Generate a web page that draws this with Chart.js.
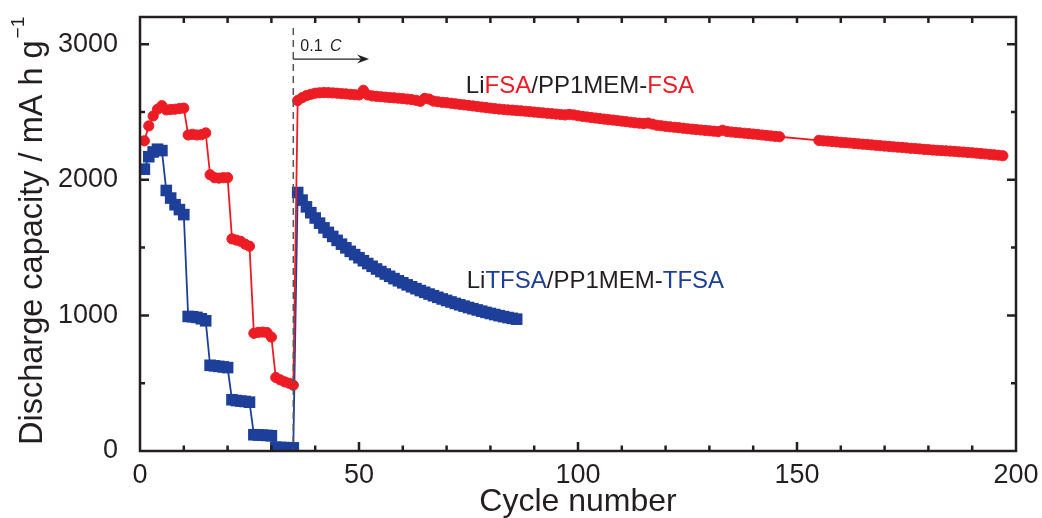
<!DOCTYPE html>
<html>
<head>
<meta charset="utf-8">
<script src="https://cdn.jsdelivr.net/npm/chart.js@4.4.1/dist/chart.umd.min.js"></script>
<style>
html,body{margin:0;padding:0;background:#ffffff;}
#wrap{width:1042px;height:518px;position:relative;}
</style>
</head>
<body>
<div id="wrap"><canvas id="c" width="1042" height="518"></canvas></div>
<script>
function range(a, b) { const r = []; for (let i = a; i <= b; i++) r.push(i); return r; }

// ---- data ----
// LiFSA/PP1MEM-FSA : cycles 1-146 and 155-197
const fsaCycles = range(1, 146).concat(range(155, 197));
const fsaCapacity = [
  2287, 2397, 2470, 2520, 2546,
  2515, 2518, 2520, 2525, 2528,
  2330, 2335, 2330, 2332, 2345,
  2037, 2015, 2012, 2015, 2015,
  1564, 1555, 1546, 1525, 1510,
  868, 875, 877, 873, 840,
  542, 525, 510, 500, 485,
  2584, 2605, 2620, 2630, 2638, 2641, 2643, 2642, 2640, 2638,
  2635, 2633, 2630, 2627, 2625, 2660, 2625, 2618, 2615, 2612,
  2609, 2606, 2604, 2601, 2598, 2595, 2591, 2586, 2578, 2600,
  2595, 2580, 2575, 2571, 2568, 2564, 2560, 2556, 2552, 2548,
  2544, 2540, 2536, 2532, 2528, 2524, 2521, 2518, 2515, 2513,
  2510, 2508, 2505, 2502, 2499, 2496, 2493, 2490, 2487, 2484,
  2481, 2478, 2482, 2478, 2472, 2467, 2463, 2459, 2455, 2451,
  2447, 2443, 2440, 2436, 2432, 2428, 2424, 2420, 2417, 2414,
  2418, 2410, 2402, 2398, 2394, 2390, 2387, 2384, 2380, 2376,
  2373, 2370, 2367, 2364, 2361, 2358, 2355, 2365, 2356, 2352,
  2349, 2346, 2343, 2340, 2337, 2334, 2330, 2327, 2323, 2320, 2317,
  2290, 2287, 2285, 2282, 2279, 2276, 2273, 2271, 2268, 2265,
  2262, 2260, 2257, 2254, 2251, 2248, 2246, 2243, 2240, 2238,
  2235, 2232, 2230, 2227, 2224, 2222, 2219, 2217, 2215, 2213,
  2211, 2209, 2206, 2204, 2201, 2199, 2196, 2193, 2190, 2187,
  2184, 2181, 2177
];

// LiTFSA/PP1MEM-TFSA : cycles 1-86
const tfsaCycles = range(1, 86);
const tfsaCapacity = [
  2078, 2170, 2205, 2225, 2215,
  1921, 1865, 1816, 1780, 1743,
  992, 990, 985, 975, 960,
  632, 628, 624, 620, 615,
  378, 372, 368, 365, 360,
  120, 118, 117, 115, 112,
  28, 26, 25, 24, 23,
  1906, 1850, 1800, 1757, 1718, 1680, 1645, 1612, 1582, 1553,
  1525, 1498, 1472, 1448, 1425, 1403, 1382, 1362, 1342, 1323,
  1305, 1288, 1271, 1255, 1240, 1225, 1211, 1197, 1183, 1170,
  1157, 1145, 1133, 1121, 1110, 1099, 1088, 1078, 1068, 1058,
  1049, 1040, 1031, 1022, 1014, 1006, 998, 991, 984, 978,
  972
];

const xTickLabels = [0, 50, 100, 150, 200];
const yTickLabels = [0, 1000, 2000, 3000];
const rateChangeCycle = 35;

const RED = '#ED1C24';
const BLUE = '#1E3F99';
const INK = '#231F20';
const FONT = "'Liberation Sans', Arial, Helvetica, sans-serif";

function pts(xs, ys) { return xs.map((x, i) => ({ x: x, y: ys[i] })); }

const decor = {
  id: 'decor',
  afterDatasetsDraw(chart) {
    const ctx = chart.ctx;
    const xs = chart.scales.x, ys = chart.scales.y;
    const a = chart.chartArea;
    ctx.save();

    // dashed rate-change line
    const xd = xs.getPixelForValue(rateChangeCycle);
    ctx.strokeStyle = '#555555';
    ctx.lineWidth = 1.5;
    ctx.setLineDash([7, 5]);
    ctx.beginPath();
    ctx.moveTo(xd, a.top + 11);
    ctx.lineTo(xd, a.bottom);
    ctx.stroke();
    ctx.setLineDash([]);

    // arrow
    const ya = ys.getPixelForValue(2890);
    const xe = xs.getPixelForValue(52.3);
    ctx.strokeStyle = INK;
    ctx.fillStyle = INK;
    ctx.lineWidth = 1.2;
    ctx.beginPath();
    ctx.moveTo(xd, ya);
    ctx.lineTo(xe - 4, ya);
    ctx.stroke();
    ctx.beginPath();
    ctx.moveTo(xe, ya);
    ctx.lineTo(xe - 12, ya - 4.5);
    ctx.lineTo(xe - 8, ya);
    ctx.lineTo(xe - 12, ya + 4.5);
    ctx.closePath();
    ctx.fill();

    // "0.1 C"
    ctx.textBaseline = 'alphabetic';
    ctx.textAlign = 'left';
    ctx.font = '16px ' + FONT;
    const tx = xs.getPixelForValue(36.6);
    const ty = ya - 8;
    ctx.fillText('0.1 ', tx, ty);
    const w01 = ctx.measureText('0.1 ').width;
    ctx.font = 'italic 16px ' + FONT;
    ctx.fillText('C', tx + w01 + 3, ty);

    // series labels
    function multi(parts, x, y) {
      ctx.font = '24px ' + FONT;
      ctx.textBaseline = 'middle';
      let cx = x;
      for (const p of parts) {
        ctx.fillStyle = p[1];
        ctx.fillText(p[0], cx, y);
        cx += ctx.measureText(p[0]).width;
      }
    }
    multi([['Li', INK], ['FSA', RED], ['/PP1MEM-', INK], ['FSA', RED]],
          xs.getPixelForValue(74.4), ys.getPixelForValue(2690));
    multi([['Li', INK], ['TFSA', BLUE], ['/PP1MEM-', INK], ['TFSA', BLUE]],
          xs.getPixelForValue(74.6), ys.getPixelForValue(1250));

    // frame
    ctx.strokeStyle = INK;
    ctx.lineWidth = 2.5;
    ctx.strokeRect(a.left, a.top, a.right - a.left, a.bottom - a.top);

    // inward ticks
    ctx.lineWidth = 2.5;
    ctx.beginPath();
    for (let v = 10; v < 200; v += 10) {
      const px = xs.getPixelForValue(v);
      const lb = (v % 50 === 0) ? 9 : 5.5;
      ctx.moveTo(px, a.bottom); ctx.lineTo(px, a.bottom - lb);
      ctx.moveTo(px, a.top); ctx.lineTo(px, a.top + 6);
    }
    for (let v = 500; v <= 3000; v += 500) {
      const py = ys.getPixelForValue(v);
      const l = (v % 1000 === 0) ? 9 : 5;
      ctx.moveTo(a.left, py); ctx.lineTo(a.left + l, py);
      ctx.moveTo(a.right, py); ctx.lineTo(a.right - l, py);
    }
    ctx.stroke();

    // y-axis title with superscript
    ctx.fillStyle = INK;
    ctx.translate(33, a.bottom - 6);
    ctx.rotate(-Math.PI / 2);
    ctx.textAlign = 'left';
    ctx.textBaseline = 'middle';
    ctx.font = '32.5px ' + FONT;
    const main = 'Discharge capacity / mA h g';
    ctx.fillText(main, 0, 0);
    const mw = ctx.measureText(main).width;
    ctx.font = '19px ' + FONT;
    ctx.fillText('\u22121', mw + 2, -14);

    ctx.restore();
  }
};

new Chart(document.getElementById('c'), {
  type: 'line',
  data: {
    datasets: [
      {
        label: 'LiFSA/PP1MEM-FSA',
        data: pts(fsaCycles, fsaCapacity),
        borderColor: RED,
        backgroundColor: RED,
        borderWidth: 1.8,
        pointStyle: 'circle',
        pointRadius: 5.1,
        pointBorderWidth: 1,
        pointBackgroundColor: RED,
        pointBorderColor: RED,
        tension: 0
      },
      {
        label: 'LiTFSA/PP1MEM-TFSA',
        data: pts(tfsaCycles, tfsaCapacity),
        borderColor: BLUE,
        backgroundColor: BLUE,
        borderWidth: 1.8,
        pointStyle: 'rect',
        pointRadius: 8.2,
        pointBorderWidth: 0,
        pointBackgroundColor: BLUE,
        pointBorderColor: BLUE,
        tension: 0
      }
    ]
  },
  options: {
    responsive: false,
    devicePixelRatio: 1,
    animation: false,
    events: [],
    layout: { padding: { left: 0, right: 26, top: 17, bottom: 0 } },
    plugins: { legend: { display: false }, tooltip: { enabled: false }, title: { display: false } },
    scales: {
      x: {
        type: 'linear',
        min: 0, max: 200,
        grid: { display: false, drawTicks: false },
        border: { display: false },
        afterFit(s) { s.height = 67; s.paddingLeft = 0; s.paddingRight = 0; },
        afterBuildTicks(s) { s.ticks = xTickLabels.map(v => ({ value: v })); },
        ticks: {
          color: INK, padding: 8, maxRotation: 0, autoSkip: false,
          font: { family: FONT, size: 27 },
          callback: v => String(v)
        },
        title: {
          display: true, text: 'Cycle number', color: INK,
          font: { family: FONT, size: 32, lineHeight: 1 },
          padding: { top: 0, bottom: 0 }
        }
      },
      y: {
        type: 'linear',
        min: 0, max: 3200,
        grid: { display: false, drawTicks: false },
        border: { display: false },
        afterFit(s) { s.width = 140; s.paddingTop = 0; s.paddingBottom = 0; },
        afterBuildTicks(s) { s.ticks = yTickLabels.map(v => ({ value: v })); },
        ticks: {
          color: INK, padding: 22,
          font: { family: FONT, size: 27 },
          callback: v => String(v)
        }
      }
    }
  },
  plugins: [decor]
});
</script>
</body>
</html>
